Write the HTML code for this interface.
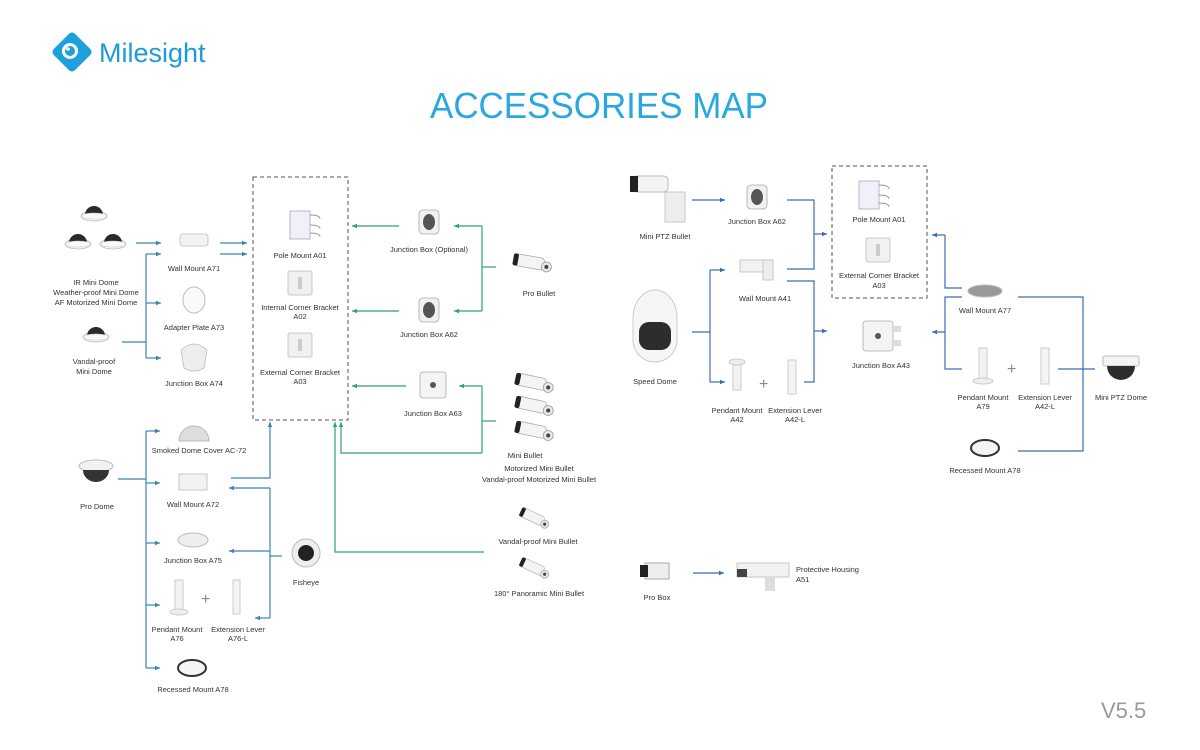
<!DOCTYPE html>
<html><head><meta charset="utf-8"><style>
html,body{margin:0;padding:0;background:#fff;}
svg{display:block;font-family:"Liberation Sans",sans-serif;}
</style></head><body>
<svg width="1200" height="750" viewBox="0 0 1200 750" xmlns="http://www.w3.org/2000/svg">
<defs>
<marker id="ab" markerWidth="6" markerHeight="6" refX="5" refY="3" orient="auto" markerUnits="userSpaceOnUse"><path d="M0,0.8 L5,3 L0,5.2z" fill="#3a85b0"/></marker>
<marker id="ag" markerWidth="6" markerHeight="6" refX="5" refY="3" orient="auto" markerUnits="userSpaceOnUse"><path d="M0,0.8 L5,3 L0,5.2z" fill="#2f9e86"/></marker>
<marker id="ar" markerWidth="6" markerHeight="6" refX="5" refY="3" orient="auto" markerUnits="userSpaceOnUse"><path d="M0,0.8 L5,3 L0,5.2z" fill="#3a6db3"/></marker>
<g id="dome"><ellipse cx="0" cy="4" rx="13" ry="5" fill="#f2f2f2" stroke="#bbb" stroke-width="0.8"/><path d="M-9,3 A9,9 0 0 1 9,3 z" fill="#2a2a2a"/><ellipse cx="0" cy="4" rx="12" ry="3" fill="#fafafa" stroke="#ccc" stroke-width="0.5"/></g>
<g id="bullet"><rect x="-16" y="-6" width="30" height="12" rx="3" fill="#f4f4f4" stroke="#aaa" stroke-width="0.8"/><rect x="-17" y="-6" width="5" height="12" rx="2" fill="#222"/><circle cx="17" cy="2" r="5" fill="#e8e8e8" stroke="#999" stroke-width="0.8"/><circle cx="17" cy="2" r="2" fill="#444"/></g>
<g id="mount"><rect x="-12" y="-12" width="24" height="24" rx="2" fill="#f1f1f1" stroke="#bbb" stroke-width="0.8"/><rect x="-2" y="-6" width="4" height="12" fill="#ccc"/></g>
<g id="jb"><rect x="-10" y="-12" width="20" height="24" rx="4" fill="#f1f1f1" stroke="#aaa" stroke-width="0.8"/><ellipse cx="0" cy="0" rx="6" ry="8" fill="#555"/></g>
</defs>

<!-- logo -->
<g transform="translate(72,52) rotate(45)"><rect x="-15" y="-15" width="30" height="30" rx="4" fill="#1ea0dc"/></g>
<circle cx="70" cy="51" r="8" fill="#fff"/><circle cx="70" cy="51" r="5" fill="#1ea0dc"/><circle cx="68" cy="49" r="1.8" fill="#fff"/>
<text x="99" y="62" font-size="27" fill="#1e9ad6">Milesight</text>
<text x="430" y="118" font-size="36" fill="#29a8e0" textLength="338" lengthAdjust="spacingAndGlyphs">ACCESSORIES MAP</text>
<text x="1101" y="718" font-size="22" fill="#9a9a9a">V5.5</text>

<!-- dashed boxes -->
<rect x="253" y="177" width="95" height="243" fill="none" stroke="#555" stroke-width="1" stroke-dasharray="4,3"/>
<rect x="832" y="166" width="95" height="132" fill="none" stroke="#555" stroke-width="1" stroke-dasharray="4,3"/>

<!-- left blue lines -->
<g stroke="#3a85b0" stroke-width="1.2" fill="none">
<line x1="136" y1="243" x2="161" y2="243" marker-end="url(#ab)"/>
<line x1="220" y1="243" x2="247" y2="243" marker-end="url(#ab)"/>
<line x1="220" y1="254" x2="247" y2="254" marker-end="url(#ab)"/>
<line x1="146" y1="254" x2="146" y2="358"/>
<line x1="146" y1="254" x2="161" y2="254" marker-end="url(#ab)"/>
<line x1="146" y1="303" x2="161" y2="303" marker-end="url(#ab)"/>
<line x1="146" y1="358" x2="161" y2="358" marker-end="url(#ab)"/>
<line x1="122" y1="342" x2="146" y2="342"/>
<line x1="118" y1="479" x2="146" y2="479"/>
<line x1="146" y1="431" x2="146" y2="668"/>
<line x1="146" y1="431" x2="160" y2="431" marker-end="url(#ab)"/>
<line x1="146" y1="483" x2="160" y2="483" marker-end="url(#ab)"/>
<line x1="146" y1="543" x2="160" y2="543" marker-end="url(#ab)"/>
<line x1="146" y1="605" x2="160" y2="605" marker-end="url(#ab)"/>
<line x1="146" y1="668" x2="160" y2="668" marker-end="url(#ab)"/>
<polyline points="231,478 270,478 270,422" marker-end="url(#ab)"/>
<line x1="270" y1="488" x2="270" y2="618"/>
<line x1="270" y1="488" x2="229" y2="488" marker-end="url(#ab)"/>
<line x1="270" y1="551" x2="229" y2="551" marker-end="url(#ab)"/>
<line x1="270" y1="618" x2="255" y2="618" marker-end="url(#ab)"/>
<line x1="270" y1="556" x2="282" y2="556"/>
</g>
<!-- green lines -->
<g stroke="#2f9e86" stroke-width="1.2" fill="none">
<line x1="399" y1="226" x2="352" y2="226" marker-end="url(#ag)"/>
<line x1="399" y1="311" x2="352" y2="311" marker-end="url(#ag)"/>
<line x1="406" y1="386" x2="352" y2="386" marker-end="url(#ag)"/>
<line x1="482" y1="226" x2="482" y2="311"/>
<line x1="482" y1="226" x2="454" y2="226" marker-end="url(#ag)"/>
<line x1="482" y1="311" x2="454" y2="311" marker-end="url(#ag)"/>
<line x1="482" y1="267" x2="496" y2="267"/>
<line x1="482" y1="386" x2="482" y2="453"/>
<line x1="482" y1="386" x2="459" y2="386" marker-end="url(#ag)"/>
<line x1="482" y1="421" x2="496" y2="421"/>
<polyline points="482,453 341,453 341,422" marker-end="url(#ag)"/>
<polyline points="484,552 335,552 335,422" marker-end="url(#ag)"/>
</g>
<!-- right blue lines -->
<g stroke="#3a6db3" stroke-width="1.2" fill="none">
<line x1="692" y1="200" x2="725" y2="200" marker-end="url(#ar)"/>
<polyline points="787,200 814,200 814,269 787,269"/>
<line x1="814" y1="234" x2="827" y2="234" marker-end="url(#ar)"/>
<line x1="692" y1="332" x2="710" y2="332"/>
<line x1="710" y1="270" x2="710" y2="382"/>
<line x1="710" y1="270" x2="725" y2="270" marker-end="url(#ar)"/>
<line x1="710" y1="382" x2="725" y2="382" marker-end="url(#ar)"/>
<polyline points="787,281 814,281 814,382 804,382"/>
<line x1="814" y1="331" x2="827" y2="331" marker-end="url(#ar)"/>
<polyline points="962,288 945,288 945,235"/>
<line x1="945" y1="235" x2="932" y2="235" marker-end="url(#ar)"/>
<polyline points="962,297 945,297 945,369 962,369"/>
<line x1="945" y1="332" x2="932" y2="332" marker-end="url(#ar)"/>
<polyline points="1018,297 1083,297 1083,451 1018,451"/>
<line x1="1058" y1="369" x2="1095" y2="369"/>
<line x1="693" y1="573" x2="724" y2="573" marker-end="url(#ar)"/>
</g>

<!-- devices -->
<use href="#dome" x="94" y="212"/><use href="#dome" x="78" y="240"/><use href="#dome" x="113" y="240"/>
<use href="#dome" x="96" y="333"/>
<g transform="translate(194,240)"><rect x="-14" y="-6" width="28" height="12" rx="3" fill="#f2f2f2" stroke="#bbb" stroke-width="0.8"/></g>
<ellipse cx="194" cy="300" rx="11" ry="13" fill="#fafafa" stroke="#bbb"/>
<path d="M181,350 Q194,338 207,350 L204,368 Q194,374 184,368z" fill="#eee" stroke="#bbb" stroke-width="0.8"/>
<g transform="translate(300,225)"><rect x="-10" y="-14" width="20" height="28" fill="#f0f0f8" stroke="#aab" stroke-width="0.8"/><path d="M10,-10 q10,0 10,4 M10,0 q10,0 10,4 M10,8 q10,0 10,4" stroke="#999" fill="none"/></g>
<use href="#mount" x="300" y="283"/><use href="#mount" x="300" y="345"/>
<use href="#jb" x="429" y="222"/><use href="#jb" x="429" y="310"/>
<g transform="translate(433,385)"><rect x="-13" y="-13" width="26" height="26" rx="3" fill="#f4f4f4" stroke="#aaa" stroke-width="0.8"/><circle r="3" fill="#555"/></g>
<g transform="translate(530,262) rotate(10)"><use href="#bullet"/></g>
<g transform="translate(532,382) rotate(12)"><use href="#bullet"/></g>
<g transform="translate(532,405) rotate(12)"><use href="#bullet"/></g>
<g transform="translate(532,430) rotate(12)"><use href="#bullet"/></g>
<g transform="translate(533,517) rotate(25) scale(0.8)"><use href="#bullet"/></g>
<g transform="translate(533,567) rotate(25) scale(0.8)"><use href="#bullet"/></g>
<path d="M179,441 A15,15 0 0 1 209,441 z" fill="#ddd" stroke="#bbb"/>
<g transform="translate(193,482)"><rect x="-14" y="-8" width="28" height="16" fill="#f2f2f2" stroke="#bbb" stroke-width="0.8"/></g>
<ellipse cx="193" cy="540" rx="15" ry="7" fill="#eee" stroke="#bbb"/>
<g><rect x="175" y="580" width="8" height="30" fill="#f2f2f2" stroke="#ccc"/><ellipse cx="179" cy="612" rx="9" ry="3" fill="#eee" stroke="#ccc"/></g>
<text x="201" y="604" font-size="16" fill="#888">+</text>
<rect x="233" y="580" width="7" height="34" fill="#f4f4f4" stroke="#ccc"/>
<ellipse cx="192" cy="668" rx="14" ry="8" fill="#f4f4f4" stroke="#333" stroke-width="2"/>
<g transform="translate(96,472)"><ellipse cx="0" cy="-6" rx="17" ry="6" fill="#f2f2f2" stroke="#bbb"/><path d="M-13,-2 A13,12 0 0 0 13,-2z" fill="#333"/></g>
<circle cx="306" cy="553" r="14" fill="#eee" stroke="#bbb"/><circle cx="306" cy="553" r="8" fill="#222"/>

<g transform="translate(660,190)"><rect x="-28" y="-14" width="36" height="16" rx="4" fill="#f4f4f4" stroke="#aaa" stroke-width="0.8"/><rect x="-30" y="-14" width="8" height="16" fill="#222"/><rect x="5" y="2" width="20" height="30" fill="#eee" stroke="#bbb" stroke-width="0.8"/></g>
<use href="#jb" x="757" y="197"/>
<g transform="translate(760,268)"><rect x="-20" y="-8" width="26" height="12" fill="#f2f2f2" stroke="#bbb" stroke-width="0.8"/><rect x="3" y="-8" width="10" height="20" fill="#eee" stroke="#bbb" stroke-width="0.8"/></g>
<g transform="translate(655,330)"><path d="M-22,-12 A22,28 0 0 1 22,-12 L22,10 A22,22 0 0 1 -22,10z" fill="#f6f6f6" stroke="#ccc"/><rect x="-16" y="-8" width="32" height="28" rx="10" fill="#2d2d2d"/></g>
<g><rect x="733" y="360" width="8" height="30" fill="#f2f2f2" stroke="#ccc"/><ellipse cx="737" cy="362" rx="8" ry="3" fill="#eee" stroke="#ccc"/></g>
<text x="759" y="389" font-size="16" fill="#888">+</text>
<rect x="788" y="360" width="8" height="34" fill="#f4f4f4" stroke="#ccc"/>
<g transform="translate(869,195)"><rect x="-10" y="-14" width="20" height="28" fill="#f0f0f8" stroke="#aab" stroke-width="0.8"/><path d="M10,-10 q10,0 10,4 M10,0 q10,0 10,4 M10,8 q10,0 10,4" stroke="#999" fill="none"/></g>
<use href="#mount" x="878" y="250"/>
<g transform="translate(878,336)"><rect x="-15" y="-15" width="30" height="30" rx="3" fill="#f4f4f4" stroke="#aaa" stroke-width="0.8"/><circle r="3" fill="#555"/><rect x="15" y="-10" width="8" height="6" fill="#ddd"/><rect x="15" y="4" width="8" height="6" fill="#ddd"/></g>
<ellipse cx="985" cy="291" rx="17" ry="6" fill="#999" stroke="#bbb"/>
<g><rect x="979" y="348" width="8" height="30" fill="#f2f2f2" stroke="#ccc"/><ellipse cx="983" cy="381" rx="10" ry="3" fill="#eee" stroke="#ccc"/></g>
<text x="1007" y="374" font-size="16" fill="#888">+</text>
<rect x="1041" y="348" width="8" height="36" fill="#f4f4f4" stroke="#ccc"/>
<g transform="translate(1121,372)"><rect x="-18" y="-16" width="36" height="10" rx="2" fill="#f4f4f4" stroke="#bbb"/><path d="M-14,-6 A14,14 0 0 0 14,-6z" fill="#2d2d2d"/></g>
<ellipse cx="985" cy="448" rx="14" ry="8" fill="#f4f4f4" stroke="#333" stroke-width="2"/>
<g transform="translate(657,572)"><rect x="-12" y="-9" width="24" height="16" fill="#eee" stroke="#aaa"/><rect x="-17" y="-7" width="8" height="12" fill="#222"/></g>
<g transform="translate(765,571)"><rect x="-28" y="-8" width="52" height="14" fill="#f2f2f2" stroke="#bbb" stroke-width="0.8"/><rect x="-28" y="-2" width="10" height="8" fill="#444"/><rect x="0" y="6" width="10" height="14" fill="#ddd"/></g>

<!-- labels -->
<g font-size="7.5" fill="#333" text-anchor="middle">
<text x="96" y="285">IR Mini Dome</text>
<text x="96" y="295">Weather-proof Mini Dome</text>
<text x="96" y="305">AF Motorized Mini Dome</text>
<text x="94" y="364">Vandal-proof</text>
<text x="94" y="374">Mini Dome</text>
<text x="194" y="271">Wall Mount A71</text>
<text x="194" y="330">Adapter Plate A73</text>
<text x="194" y="386">Junction Box A74</text>
<text x="300" y="258">Pole Mount A01</text>
<text x="300" y="310">Internal Corner Bracket</text>
<text x="300" y="319">A02</text>
<text x="300" y="375">External Corner Bracket</text>
<text x="300" y="384">A03</text>
<text x="429" y="252">Junction Box (Optional)</text>
<text x="429" y="337">Junction Box A62</text>
<text x="433" y="416">Junction Box A63</text>
<text x="539" y="296">Pro Bullet</text>
<text x="525" y="458">Mini Bullet</text>
<text x="539" y="471">Motorized Mini Bullet</text>
<text x="539" y="482">Vandal-proof Motorized Mini Bullet</text>
<text x="538" y="544">Vandal-proof Mini Bullet</text>
<text x="539" y="596">180° Panoramic Mini Bullet</text>
<text x="199" y="453">Smoked Dome Cover AC-72</text>
<text x="193" y="507">Wall Mount A72</text>
<text x="193" y="563">Junction Box A75</text>
<text x="177" y="632">Pendant Mount</text>
<text x="177" y="641">A76</text>
<text x="238" y="632">Extension Lever</text>
<text x="238" y="641">A76-L</text>
<text x="193" y="692">Recessed Mount A78</text>
<text x="97" y="509">Pro Dome</text>
<text x="306" y="585">Fisheye</text>
<text x="665" y="239">Mini PTZ Bullet</text>
<text x="757" y="224">Junction Box A62</text>
<text x="765" y="301">Wall Mount A41</text>
<text x="655" y="384">Speed Dome</text>
<text x="737" y="413">Pendant Mount</text>
<text x="737" y="422">A42</text>
<text x="795" y="413">Extension Lever</text>
<text x="795" y="422">A42-L</text>
<text x="879" y="222">Pole Mount A01</text>
<text x="879" y="278">External Corner Bracket</text>
<text x="879" y="288">A03</text>
<text x="881" y="368">Junction Box A43</text>
<text x="985" y="313">Wall Mount A77</text>
<text x="983" y="400">Pendant Mount</text>
<text x="983" y="409">A79</text>
<text x="1045" y="400">Extension Lever</text>
<text x="1045" y="409">A42-L</text>
<text x="1121" y="400">Mini PTZ Dome</text>
<text x="985" y="473">Recessed Mount A78</text>
<text x="657" y="600">Pro Box</text>
<text x="796" y="572" text-anchor="start">Protective Housing</text>
<text x="796" y="582" text-anchor="start">A51</text>
</g>
</svg>
</body></html>
